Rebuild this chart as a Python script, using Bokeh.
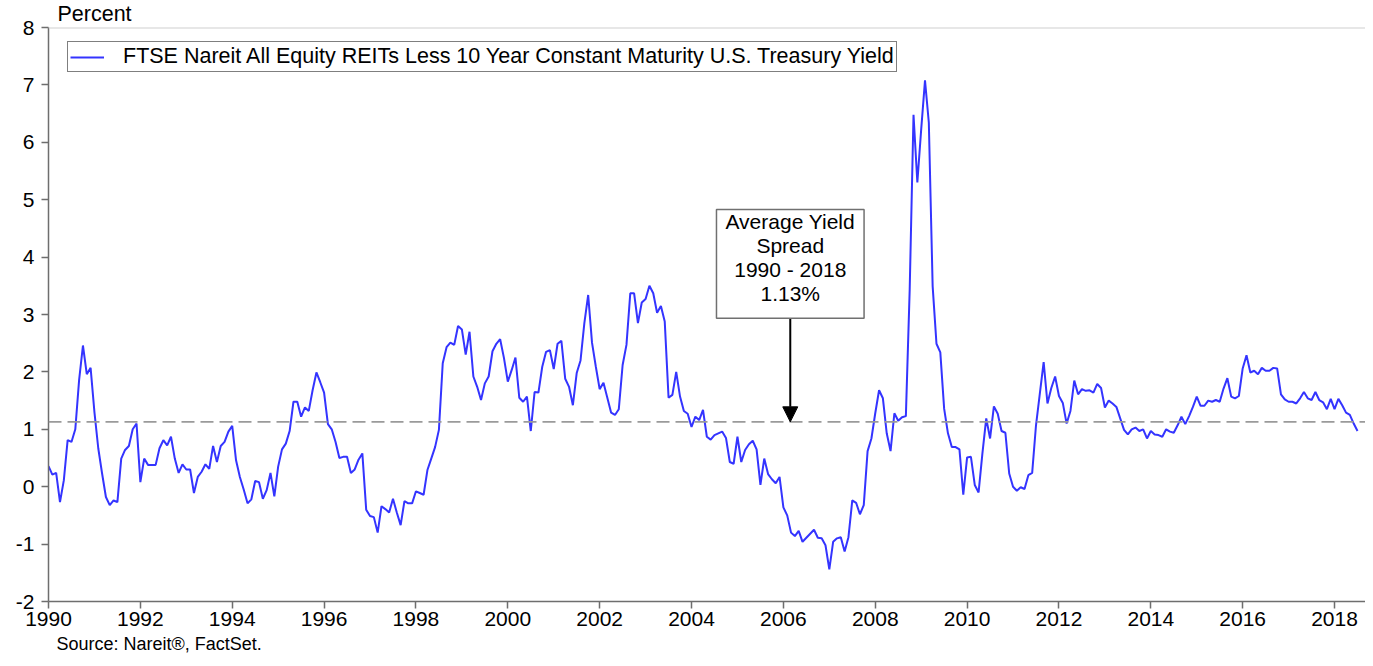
from bokeh.plotting import figure
from bokeh.models import (Span, Label, Arrow, NormalHead, Legend, LegendItem, Title,
                          FixedTicker, Range1d, ColumnDataSource)
from bokeh.embed import file_html
from bokeh.resources import INLINE

FONT = "Liberation Sans"

# ---------------- data ----------------
start_year = 1990
# monthly spread, percent (Jan 1990 - Jul 2018)
spread_pct = [
    0.36, 0.21, 0.24, -0.27, 0.11, 0.81, 0.78, 1.00, 1.86, 2.46, 1.96, 2.07,      # 1990
    1.30, 0.67, 0.23, -0.18, -0.32, -0.24, -0.27, 0.49, 0.64, 0.71, 1.00, 1.10,   # 1991
    0.08, 0.49, 0.38, 0.38, 0.38, 0.67, 0.81, 0.72, 0.87, 0.49, 0.24, 0.39,       # 1992
    0.30, 0.30, -0.11, 0.17, 0.26, 0.39, 0.31, 0.71, 0.43, 0.71, 0.78, 0.96,      # 1993
    1.06, 0.46, 0.17, -0.05, -0.29, -0.22, 0.10, 0.08, -0.21, -0.06, 0.24, -0.17, # 1994
    0.35, 0.65, 0.75, 0.97, 1.48, 1.48, 1.22, 1.38, 1.32, 1.68, 1.99, 1.82,       # 1995
    1.64, 1.09, 1.00, 0.78, 0.50, 0.52, 0.52, 0.24, 0.30, 0.47, 0.58, -0.40,      # 1996
    -0.51, -0.53, -0.80, -0.34, -0.39, -0.45, -0.21, -0.45, -0.67, -0.25, -0.29, -0.29,  # 1997
    -0.08, -0.11, -0.14, 0.29, 0.49, 0.69, 0.99, 2.15, 2.43, 2.51, 2.47, 2.80,    # 1998
    2.74, 2.30, 2.70, 1.92, 1.74, 1.51, 1.80, 1.92, 2.36, 2.49, 2.57, 2.24,       # 1999
    1.83, 2.03, 2.25, 1.55, 1.48, 1.57, 0.97, 1.65, 1.64, 2.09, 2.35, 2.38,       # 2000
    2.05, 2.49, 2.54, 1.88, 1.74, 1.42, 1.98, 2.20, 2.85, 3.34, 2.51, 2.09,       # 2001
    1.70, 1.81, 1.55, 1.29, 1.25, 1.35, 2.12, 2.47, 3.37, 3.37, 2.85, 3.21,       # 2002
    3.27, 3.50, 3.37, 3.03, 3.15, 2.88, 1.55, 1.60, 2.00, 1.57, 1.32, 1.27,       # 2003
    1.04, 1.22, 1.16, 1.34, 0.87, 0.82, 0.90, 0.93, 0.96, 0.85, 0.43, 0.40,       # 2004
    0.87, 0.43, 0.64, 0.74, 0.80, 0.65, 0.03, 0.49, 0.22, 0.13, 0.06, 0.17,       # 2005
    -0.36, -0.50, -0.80, -0.86, -0.77, -0.96, -0.89, -0.82, -0.75, -0.89, -0.90, -1.02,  # 2006
    -1.44, -0.96, -0.90, -0.88, -1.13, -0.88, -0.24, -0.28, -0.48, -0.32, 0.62, 0.84,    # 2007
    1.28, 1.68, 1.54, 0.93, 0.62, 1.28, 1.15, 1.21, 1.23, 3.43, 6.48, 5.30,       # 2008
    6.22, 7.08, 6.34, 3.49, 2.49, 2.34, 1.36, 0.93, 0.69, 0.69, 0.65, -0.14,      # 2009
    0.51, 0.52, 0.03, -0.10, 0.58, 1.19, 0.84, 1.40, 1.27, 0.97, 0.94, 0.23,      # 2010
    0.00, -0.07, -0.01, -0.04, 0.20, 0.24, 1.07, 1.62, 2.17, 1.45, 1.72, 1.92,    # 2011
    1.58, 1.46, 1.10, 1.32, 1.85, 1.61, 1.70, 1.67, 1.68, 1.64, 1.79, 1.72,       # 2012
    1.38, 1.50, 1.45, 1.39, 1.19, 0.99, 0.91, 1.00, 1.03, 0.97, 1.00, 0.84,       # 2013
    0.97, 0.91, 0.90, 0.87, 1.00, 0.96, 0.94, 1.07, 1.22, 1.09, 1.23, 1.39,       # 2014
    1.57, 1.41, 1.41, 1.50, 1.48, 1.51, 1.48, 1.71, 1.89, 1.57, 1.54, 1.58,       # 2015
    2.06, 2.29, 1.99, 2.02, 1.96, 2.07, 2.02, 2.02, 2.07, 2.06, 1.61, 1.52,       # 2016
    1.48, 1.48, 1.45, 1.54, 1.65, 1.54, 1.51, 1.65, 1.51, 1.47, 1.35, 1.53,       # 2017
    1.35, 1.53, 1.42, 1.29, 1.25, 1.10, 0.97,                                     # 2018
]
avg_spread = 1.13
avg_note = "Average Yield\nSpread\n1990 - 2018\n1.13%"
legend_label = "FTSE Nareit All Equity REITs Less 10 Year Constant Maturity U.S. Treasury Yield"
y_title = "Percent"
source_note = "Source: Nareit\u00ae, FactSet."
x_ticks = list(range(1990, 2019, 2))
y_ticks = list(range(-2, 9))

# ---------------- figure ----------------
dates = [start_year + i / 12 for i in range(len(spread_pct))]
src = ColumnDataSource(dict(date=dates, spread=spread_pct))

W, H = 1365, 658
B_LEFT, B_TOP, B_BOTTOM = 48, 27, 57
FRAME_H = H - B_TOP - B_BOTTOM

p = figure(width=W, height=H, output_backend="svg", toolbar_location=None,
           x_range=Range1d(1990, 2018.674), y_range=Range1d(-2, 8),
           min_border_left=B_LEFT, min_border_right=0, min_border_top=B_TOP,
           min_border_bottom=B_BOTTOM)
p.outline_line_color = None
p.xgrid.grid_line_color = None
p.ygrid.grid_line_color = None
p.background_fill_color = "white"
p.border_fill_color = "white"

p.xaxis.ticker = FixedTicker(ticks=x_ticks)
p.yaxis.ticker = FixedTicker(ticks=y_ticks)
p.yaxis.major_label_overrides = {t: str(t) for t in y_ticks}
p.xaxis.major_label_overrides = {t: str(t) for t in x_ticks}
for ax in (p.xaxis[0], p.yaxis[0]):
    ax.axis_line_color = "#6e6e6e"
    ax.axis_line_width = 1.5
    ax.major_tick_line_color = "#6e6e6e"
    ax.major_tick_line_width = 1.5
    ax.major_tick_in = 0
    ax.major_tick_out = 7
    ax.minor_tick_line_color = None
    ax.major_label_text_font = FONT
    ax.major_label_text_font_size = "21px"
    ax.major_label_text_color = "black"
p.xaxis.major_label_standoff = 3
p.yaxis.major_label_standoff = 7

# texts outside the frame, as titles
p.add_layout(Title(text=y_title, align="left", offset=9, vertical_align="top", standoff=0,
                   text_font=FONT, text_font_size="21.5px", text_font_style="normal",
                   text_color="black"), "above")
p.add_layout(Title(text=source_note, align="left", offset=8, vertical_align="bottom",
                   standoff=7, text_font=FONT, text_font_size="18px",
                   text_font_style="normal", text_color="black"), "below")

# top frame line
p.add_layout(Span(location=8, dimension="width", line_color="#cfcfcf", line_width=2))
# average line
p.add_layout(Span(location=avg_spread, dimension="width", line_color="#9a9a9a",
                  line_width=1.8, line_dash="13 6"))

r = p.line("date", "spread", source=src, line_color="#3434FF", line_width=2)

leg = Legend(items=[LegendItem(label=legend_label, renderers=[r])],
             location=(19, FRAME_H - 16 - 29))
leg.border_line_color = "black"
leg.border_line_width = 1.5
leg.padding = 2
leg.margin = 0
leg.spacing = 0
leg.glyph_width = 34
leg.glyph_height = 18
leg.label_height = 18
leg.label_standoff = 19
leg.label_text_font = FONT
leg.label_text_font_size = "21.5px"
leg.label_text_color = "black"
leg.background_fill_alpha = 1
p.add_layout(leg)

annot_year = 2006.15
box_top = 4.83
p.add_layout(Arrow(x_start=annot_year, y_start=3.2, x_end=annot_year, y_end=avg_spread,
                   line_color="black", line_width=2,
                   end=NormalHead(size=15, fill_color="black", line_color="black")))
# padding order: (left, right, top, bottom)
p.add_layout(Label(x=annot_year, y=box_top, text=avg_note, text_font=FONT,
                   text_font_size="21px", text_color="black", text_align="center",
                   text_baseline="top", text_line_height=1.04,
                   border_line_color="#707070", border_line_width=1.5,
                   background_fill_color="white", padding=(9, 9, 1, 13)))

open("out.html", "w").write(file_html(p, INLINE))
